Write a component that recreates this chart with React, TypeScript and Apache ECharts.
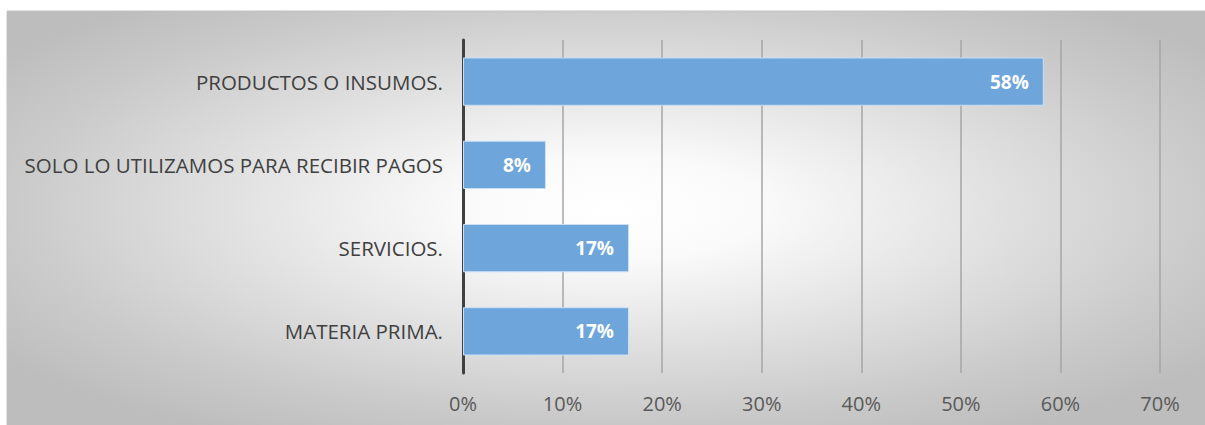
import React, { useEffect, useRef } from "react";
import * as echarts from "echarts";

const categories = [
  "MATERIA PRIMA.",
  "SERVICIOS.",
  "SOLO LO UTILIZAMOS PARA RECIBIR PAGOS",
  "PRODUCTOS O INSUMOS.",
];
const values = [16.67, 16.67, 8.33, 58.33];
const xMin = 0;
const xMax = 70;
const xInterval = 10;

export default function App() {
  const ref = useRef<HTMLDivElement>(null);
  useEffect(() => {
    document.body.style.margin = "0";
    const chart = echarts.init(ref.current!, null, { renderer: "svg" });
    chart.setOption({
      animation: false,
      backgroundColor: "#ffffff",
      graphic: [
        {
          type: "rect",
          z: -10,
          silent: true,
          shape: { x: 7, y: 11, width: 1210, height: 420 },
          style: {
            fill: new echarts.graphic.RadialGradient(0.5, 0.47, 0.62, [
              { offset: 0, color: "#ffffff" },
              { offset: 0.2, color: "#fafafa" },
              { offset: 0.8, color: "#cacaca" },
              { offset: 1, color: "#bdbdbd" },
            ]),
            stroke: "#c3c3c3",
            lineWidth: 1,
          },
        },
      ],
      grid: { left: 463, right: 45, top: 40, bottom: 52, containLabel: false },
      xAxis: {
        type: "value",
        min: xMin,
        max: xMax,
        interval: xInterval,
        axisLine: { show: false },
        axisTick: { show: false },
        axisLabel: {
          formatter: "{value}%",
          color: "#595959",
          fontSize: 20,
          fontFamily: "Open Sans",
          margin: 20,
        },
        splitLine: { show: true, lineStyle: { color: "#a6a6a6", width: 1.5 } },
      },
      yAxis: {
        type: "category",
        data: categories,
        axisLine: { show: true, lineStyle: { color: "#404040", width: 3 } },
        axisTick: { show: false },
        axisLabel: {
          color: "#404040",
          fontSize: 20.5,
          fontFamily: "Open Sans",
          margin: 20,
        },
        splitLine: { show: false },
      },
      series: [
        {
          type: "bar",
          data: values,
          barWidth: "58%",
          itemStyle: { color: "#6ea5db", borderColor: "#c9e0f4", borderWidth: 1 },
          label: {
            show: true,
            position: "insideRight",
            distance: 15,
            color: "#ffffff",
            fontWeight: "bold",
            fontSize: 19,
            fontFamily: "Open Sans",
            formatter: (p: any) => Math.round(p.value) + "%",
          },
        },
      ],
    });
    return () => chart.dispose();
  }, []);
  return (
    <div
      ref={ref}
      style={{ position: "absolute", left: 0, top: 0, width: 1205, height: 425 }}
    />
  );
}
